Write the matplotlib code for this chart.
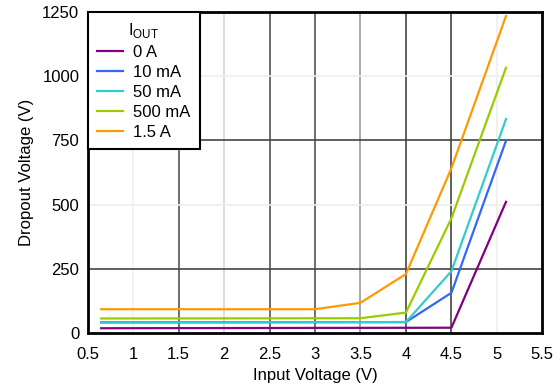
import matplotlib
matplotlib.use("Agg")
import matplotlib.pyplot as plt

plt.rcParams['font.family'] = ['Liberation Sans', 'DejaVu Sans']

x_0a = [0.65, 4.5, 5.1]
y_0a = [19, 21, 511]
x_10ma = [0.65, 4.0, 4.5, 5.1]
y_10ma = [42, 43, 157, 749]
x_50ma = [0.65, 4.0, 4.5, 5.1]
y_50ma = [41, 43, 241, 833]
x_500ma = [0.65, 3.5, 4.0, 4.5, 5.1]
y_500ma = [57, 58, 80, 447, 1033]
x_1p5a = [0.65, 3.0, 3.5, 4.0, 4.5, 5.1]
y_1p5a = [93, 93, 118, 230, 642, 1234]

labels = ['0 A', '10 mA', '50 mA', '500 mA', '1.5 A']
colors = ['#800080', '#3366FF', '#33CCCC', '#99CC00', '#FF9900']
xticks = [0.5, 1, 1.5, 2, 2.5, 3, 3.5, 4, 4.5, 5, 5.5]
yticks = [0, 250, 500, 750, 1000, 1250]

fig = plt.figure(figsize=(5.58, 3.86), dpi=100)
ax = fig.add_axes([0.157, 0.137, 0.815, 0.832])

# grid lines with varied shading as in reference
vgrid = {1: '#f0f0f0', 1.5: '#555555', 2: '#d8d8d8', 2.5: '#555555', 3: '#555555',
         3.5: '#999999', 4: '#444444', 4.5: '#444444', 5: '#eeeeee'}
for xv, c in vgrid.items():
    ax.axvline(xv, color=c, lw=1.2, zorder=1)
hgrid = {250: '#444444', 500: '#eeeeee', 750: '#444444', 1000: '#eeeeee'}
for yv, c in hgrid.items():
    ax.axhline(yv, color=c, lw=1.2, zorder=1)

series = [(x_0a, y_0a), (x_10ma, y_10ma), (x_50ma, y_50ma), (x_500ma, y_500ma), (x_1p5a, y_1p5a)]
for (xs, ys), lab, c in zip(series, labels, colors):
    ax.plot(xs, ys, color=c, lw=1.6, label=lab, zorder=3)

ax.set_xlim(0.5, 5.5)
ax.set_ylim(0, 1250)
ax.set_xticks(xticks)
ax.set_xticklabels([f'{v:g}' for v in xticks])
ax.set_yticks(yticks)
ax.tick_params(axis='y', length=0, labelsize=12, pad=6)
ax.tick_params(axis='x', length=0, labelsize=12, pad=10)
for s in ax.spines.values():
    s.set_linewidth(2)
    s.set_color('black')
ax.set_xlabel('Input Voltage (V)', fontsize=12, labelpad=4)
ax.set_ylabel('Dropout Voltage (V)', fontsize=12, labelpad=6)

leg = ax.legend(title=r'I$_{\mathregular{OUT}}$', loc='upper left', fontsize=12,
                title_fontsize=12, frameon=True, fancybox=False, borderaxespad=0,
                handlelength=1.6, handletextpad=0.6, labelspacing=0.3,
                borderpad=0.55)
leg.get_frame().set_edgecolor('black')
leg.get_frame().set_linewidth(1.5)
leg.get_frame().set_alpha(1)
leg.set_zorder(5)

fig.savefig('out.png', dpi=100)
